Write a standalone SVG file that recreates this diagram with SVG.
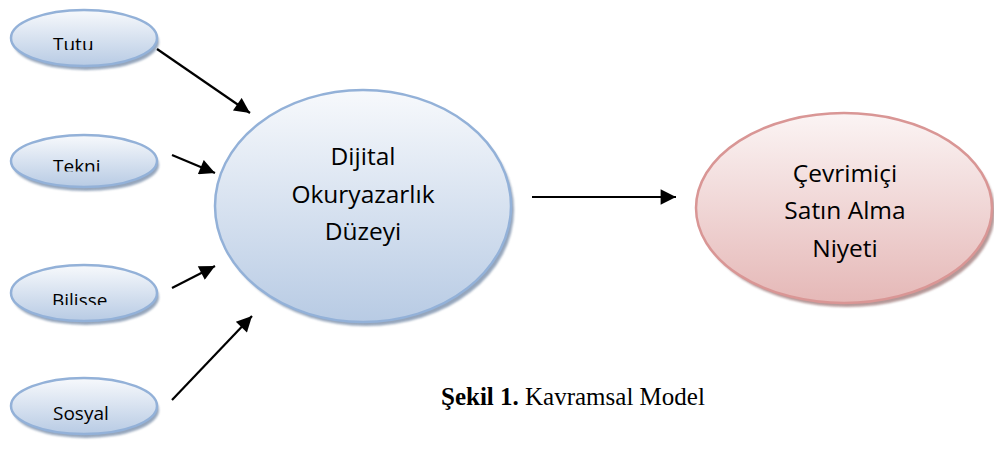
<svg xmlns="http://www.w3.org/2000/svg" width="994" height="450" viewBox="0 0 994 450">
<defs>
<linearGradient id="gb" x1="0" y1="0" x2="0" y2="1">
<stop offset="0" stop-color="#f7f9fc"/>
<stop offset="1" stop-color="#b8cbe4"/>
</linearGradient>
<linearGradient id="gr" x1="0" y1="0" x2="0" y2="1">
<stop offset="0" stop-color="#fbf4f4"/>
<stop offset="1" stop-color="#e5b8b7"/>
</linearGradient>
<filter id="blur" x="-10%" y="-10%" width="120%" height="120%">
<feGaussianBlur stdDeviation="1.2"/>
</filter>
<marker id="ah" viewBox="0 0 10 10" refX="10" refY="5" markerWidth="8" markerHeight="7" markerUnits="strokeWidth" orient="auto">
<path d="M0,0 L10,5 L0,10 Z" fill="#000"/>
</marker>
<clipPath id="c1"><rect x="0" y="0" width="200" height="50"/></clipPath>
<clipPath id="c2"><rect x="0" y="130" width="200" height="41.5"/></clipPath>
<clipPath id="c3"><rect x="0" y="260" width="200" height="45"/></clipPath>
</defs>
<style>
.sh{fill:#8396b0;filter:url(#blur);opacity:0.85}
.shr{fill:#a88686;filter:url(#blur);opacity:0.85}
.nb{fill:url(#gb);stroke:#93b1d8;stroke-width:2.5}
.nr{fill:url(#gr);stroke:#d99695;stroke-width:2.5}
.t{font-family:"Open Sans","Liberation Sans",sans-serif;fill:#000}
.s{font-size:19px}
.b{font-size:24.5px;text-anchor:middle}
.e{stroke:#000;stroke-width:2.2;fill:none;marker-end:url(#ah)}
.cap{font-family:"Liberation Serif","Times New Roman",serif;font-size:25px;fill:#000}
</style>
<rect width="994" height="450" fill="#fff"/>
<g id="tutu">
<ellipse class="sh" cx="86" cy="42" rx="73" ry="28"/>
<ellipse class="nb" cx="84" cy="38" rx="73" ry="28"/>
<text class="t s" x="53" y="51" clip-path="url(#c1)">Tutu</text>
</g>
<g id="tekni">
<ellipse class="sh" cx="86" cy="165" rx="73" ry="26"/>
<ellipse class="nb" cx="84" cy="161" rx="73" ry="26"/>
<text class="t s" x="53" y="173" clip-path="url(#c2)">Tekni</text>
</g>
<g id="bilisse">
<ellipse class="sh" cx="86" cy="297" rx="73" ry="28"/>
<ellipse class="nb" cx="84" cy="293" rx="73" ry="28"/>
<text class="t s" x="52" y="307" clip-path="url(#c3)">Bilisse</text>
</g>
<g id="sosyal">
<ellipse class="sh" cx="86" cy="410" rx="73" ry="28"/>
<ellipse class="nb" cx="84" cy="406" rx="73" ry="28"/>
<text class="t s" x="53" y="420">Sosyal</text>
</g>
<g id="dijital">
<ellipse class="sh" cx="366" cy="210" rx="148" ry="116"/>
<ellipse class="nb" cx="363" cy="206" rx="148" ry="116"/>
<text class="t b" x="363" y="165">Dijital</text>
<text class="t b" x="363" y="203">Okuryazarlık</text>
<text class="t b" x="363" y="240">Düzeyi</text>
</g>
<g id="cevrimici">
<ellipse class="shr" cx="847" cy="212" rx="148" ry="95"/>
<ellipse class="nr" cx="844" cy="208" rx="148" ry="95"/>
<text class="t b" x="845" y="182">Çevrimiçi</text>
<text class="t b" x="845" y="219">Satın Alma</text>
<text class="t b" x="845" y="257">Niyeti</text>
</g>
<g id="connectors">
<line class="e" x1="157" y1="49" x2="250" y2="113"/>
<line class="e" x1="172" y1="155" x2="215" y2="173"/>
<line class="e" x1="172" y1="288" x2="215" y2="266"/>
<line class="e" x1="172" y1="400" x2="252" y2="316"/>
<line class="e" x1="532" y1="197" x2="676" y2="197"/>
</g>
<text class="cap" x="441" y="405"><tspan font-weight="bold">Şekil 1.</tspan> Kavramsal Model</text>
</svg>
